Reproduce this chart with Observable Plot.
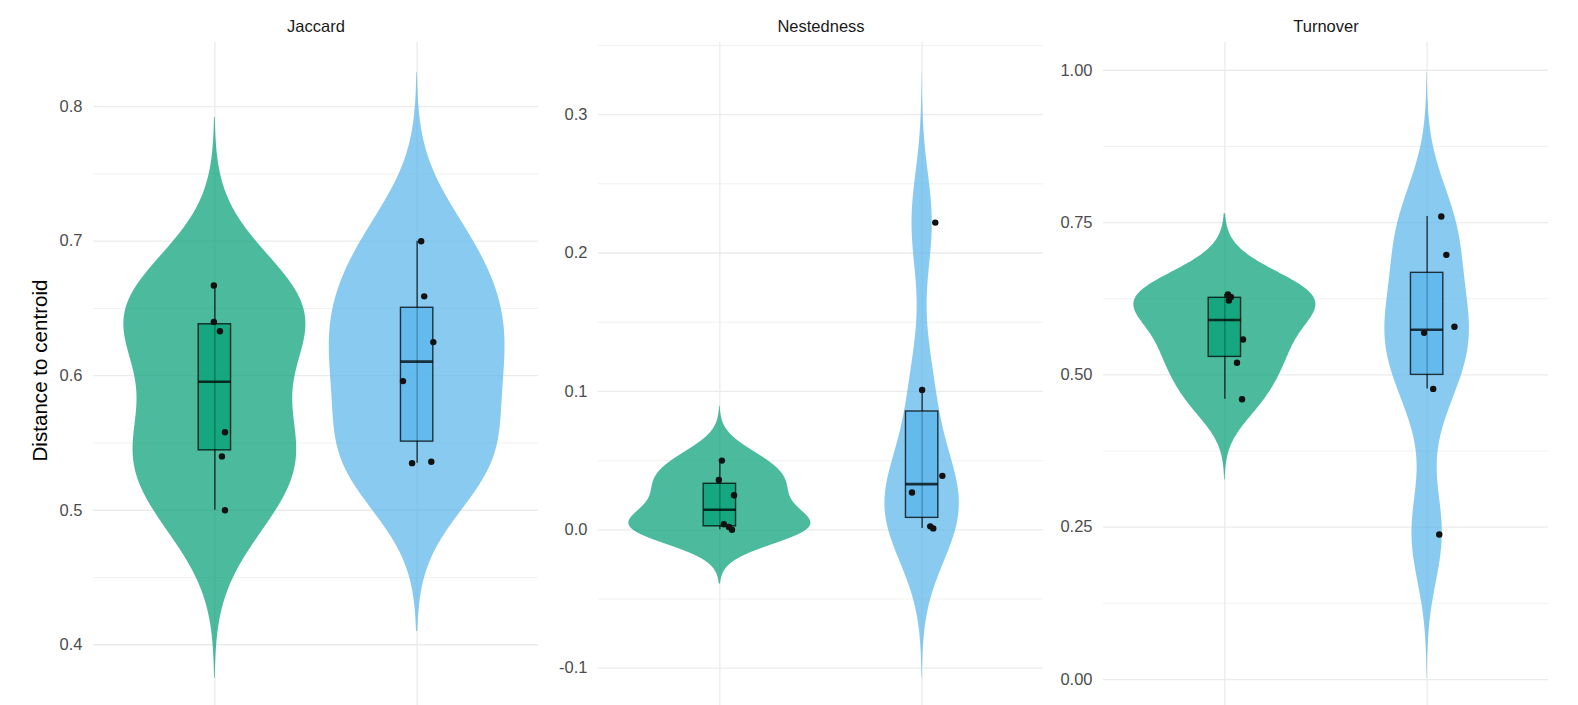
<!DOCTYPE html>
<html><head><meta charset="utf-8">
<script src="https://cdn.jsdelivr.net/npm/d3@7"></script>
<script src="https://cdn.jsdelivr.net/npm/@observablehq/plot@0.6"></script>
<style>
html,body{margin:0;padding:0;background:#fff;overflow:hidden;}
#chart{position:relative;width:1578px;height:705px;overflow:hidden;background:#fff;}
</style></head><body><div id="chart"></div>
<script>
// ---- data ----
const metrics = ["Jaccard", "Nestedness", "Turnover"];
const groups = ["Group 1", "Group 2"];
const groupColors = ["#009E73", "#56B4E9"];
const yTitle = "Distance to centroid";

const jaccardG1 = [0.667, 0.640, 0.633, 0.558, 0.540, 0.500];
const jaccardG2 = [0.700, 0.659, 0.625, 0.596, 0.536, 0.535];
const nestednessG1 = [0.050, 0.036, 0.025, 0.004, 0.002, 0.000];
const nestednessG2 = [0.222, 0.101, 0.039, 0.027, 0.0025, 0.001];
const turnoverG1 = [0.632, 0.628, 0.622, 0.558, 0.520, 0.460];
const turnoverG2 = [0.760, 0.697, 0.579, 0.569, 0.477, 0.238];

// horizontal jitter of each point (category units)
const jaccardJitterG1 = [-0.005, -0.005, 0.025, 0.05, 0.035, 0.05];
const jaccardJitterG2 = [0.02, 0.035, 0.08, -0.07, 0.07, -0.025];
const nestednessJitterG1 = [0.01, -0.005, 0.07, 0.02, 0.045, 0.06];
const nestednessJitterG2 = [0.065, 0.0, 0.1, -0.05, 0.04, 0.055];
const turnoverJitterG1 = [0.015, 0.03, 0.02, 0.09, 0.06, 0.085];
const turnoverJitterG2 = [0.07, 0.095, 0.135, -0.015, 0.03, 0.06];

const jaccardTicks = [0.4, 0.5, 0.6, 0.7, 0.8];
const jaccardTickLabels = ["0.4", "0.5", "0.6", "0.7", "0.8"];
const nestednessTicks = [-0.1, 0.0, 0.1, 0.2, 0.3];
const nestednessTickLabels = ["-0.1", "0.0", "0.1", "0.2", "0.3"];
const turnoverTicks = [0, 0.25, 0.5, 0.75, 1.0];
const turnoverTickLabels = ["0.00", "0.25", "0.50", "0.75", "1.00"];

// ---- helpers ----
function bwNrd0(v) {
  const s = d3.deviation(v);
  const iqr = d3.quantile(v, 0.75) - d3.quantile(v, 0.25);
  let lo = Math.min(s, iqr / 1.34);
  if (!(lo > 0)) lo = s || Math.abs(v[0]) || 1;
  return 0.9 * lo * Math.pow(v.length, -0.2);
}
function kde(v, bw, n = 512) {
  const lo = d3.min(v) - 3 * bw, hi = d3.max(v) + 3 * bw;
  const out = [];
  for (let k = 0; k < n; k++) {
    const y = lo + (hi - lo) * k / (n - 1);
    let s = 0;
    for (const x of v) { const u = (y - x) / bw; s += Math.exp(-0.5 * u * u); }
    out.push({y, d: s / (v.length * bw * Math.sqrt(2 * Math.PI))});
  }
  return out;
}
function minorTicks(ticks, lo, hi) {
  const step = ticks[1] - ticks[0];
  const ext = [ticks[0] - step, ...ticks, ticks[ticks.length - 1] + step];
  const m = [];
  for (let i = 0; i < ext.length - 1; i++) m.push((ext[i] + ext[i + 1]) / 2);
  return m.filter(d => d >= lo && d <= hi);
}

const panels = [
  {name: metrics[0], series: [jaccardG1, jaccardG2], jitter: [jaccardJitterG1, jaccardJitterG2],
   ticks: jaccardTicks, labels: jaccardTickLabels, left: 0, width: 548, marginLeft: 93, marginRight: 10, first: true},
  {name: metrics[1], series: [nestednessG1, nestednessG2], jitter: [nestednessJitterG1, nestednessJitterG2],
   ticks: nestednessTicks, labels: nestednessTickLabels, left: 548, width: 505, marginLeft: 50, marginRight: 10},
  {name: metrics[2], series: [turnoverG1, turnoverG2], jitter: [turnoverJitterG1, turnoverJitterG2],
   ticks: turnoverTicks, labels: turnoverTickLabels, left: 1053, width: 525, marginLeft: 50, marginRight: 30}
];

const chart = document.getElementById("chart");
const boxHalf = 0.08;
const font = "'Liberation Sans', Arial, Helvetica, sans-serif";

for (const p of panels) {
  const dens = p.series.map(v => kde(v, bwNrd0(v)));
  const maxD = d3.max(dens.flat(), r => r.d);
  const violin = [];
  dens.forEach((rows, i) => rows.forEach(r => violin.push({
    group: groups[i], y: r.y, x1: i - 0.45 * r.d / maxD, x2: i + 0.45 * r.d / maxD
  })));
  const yLo0 = d3.min(violin, r => r.y), yHi0 = d3.max(violin, r => r.y);
  const pad = (yHi0 - yLo0) * 0.05;
  const yLo = yLo0 - pad, yHi = yHi0 + pad;

  const boxes = p.series.map((v, i) => {
    const q1 = d3.quantile(v, 0.25), med = d3.quantile(v, 0.5), q3 = d3.quantile(v, 0.75);
    const iqr = q3 - q1;
    const lo = d3.min(v.filter(x => x >= q1 - 1.5 * iqr));
    const hi = d3.max(v.filter(x => x <= q3 + 1.5 * iqr));
    return {group: groups[i], x: i, q1, med, q3, lo, hi};
  });
  const points = [];
  p.series.forEach((v, i) => v.forEach((y, j) => points.push({group: groups[i], x: i + p.jitter[i][j], y})));

  const marks = [
    Plot.ruleY(minorTicks(p.ticks, yLo, yHi), {stroke: "#ebebeb", strokeWidth: 0.7}),
    Plot.ruleY(p.ticks, {stroke: "#ebebeb", strokeWidth: 1.3}),
    Plot.ruleX([0, 1], {stroke: "#ebebeb", strokeWidth: 1.3}),
    Plot.areaX(violin, {y: "y", x1: "x1", x2: "x2", z: "group", fill: "group", fillOpacity: 0.7, curve: "linear"}),
    Plot.ruleX(boxes, {x: "x", y1: "lo", y2: "hi", stroke: "black", strokeOpacity: 0.75, strokeWidth: 1.4}),
    Plot.rect(boxes, {x1: d => d.x - boxHalf, x2: d => d.x + boxHalf, y1: "q1", y2: "q3", fill: "group", fillOpacity: 0.7,
      stroke: "black", strokeOpacity: 0.75, strokeWidth: 1.4}),
    Plot.ruleY(boxes, {y: "med", x1: d => d.x - boxHalf, x2: d => d.x + boxHalf, stroke: "black", strokeOpacity: 0.75, strokeWidth: 2.6}),
    Plot.dot(points, {x: "x", y: "y", r: 3.2, fill: "#111", stroke: "none"}),
    Plot.axisY(p.ticks, {tickSize: 0, tickPadding: 11, tickFormat: d => p.labels[p.ticks.indexOf(d)], fontSize: 16.5, fill: "#4d4d4d", label: null}),
    Plot.text([p.name], {text: d => d, frameAnchor: "top", lineAnchor: "middle", dy: -16, fontSize: 16.5, fill: "#1a1a1a"})
  ];
  if (p.first) marks.push(Plot.text([yTitle], {text: d => d, frameAnchor: "left", rotate: -90, dx: -53, dy: -5,
    textAnchor: "middle", lineAnchor: "middle", fontSize: 20.6, fill: "#000"}));

  const svg = Plot.plot({
    width: p.width, height: 710,
    marginTop: 42, marginBottom: 2, marginLeft: p.marginLeft, marginRight: p.marginRight,
    x: {domain: [-0.6, 1.6], axis: null},
    y: {domain: [yLo, yHi], axis: null},
    color: {domain: groups, range: groupColors},
    style: {fontFamily: font, background: "transparent"},
    marks
  });
  svg.style.position = "absolute";
  svg.style.left = p.left + "px";
  svg.style.top = "0px";
  chart.appendChild(svg);
}
</script></body></html>
